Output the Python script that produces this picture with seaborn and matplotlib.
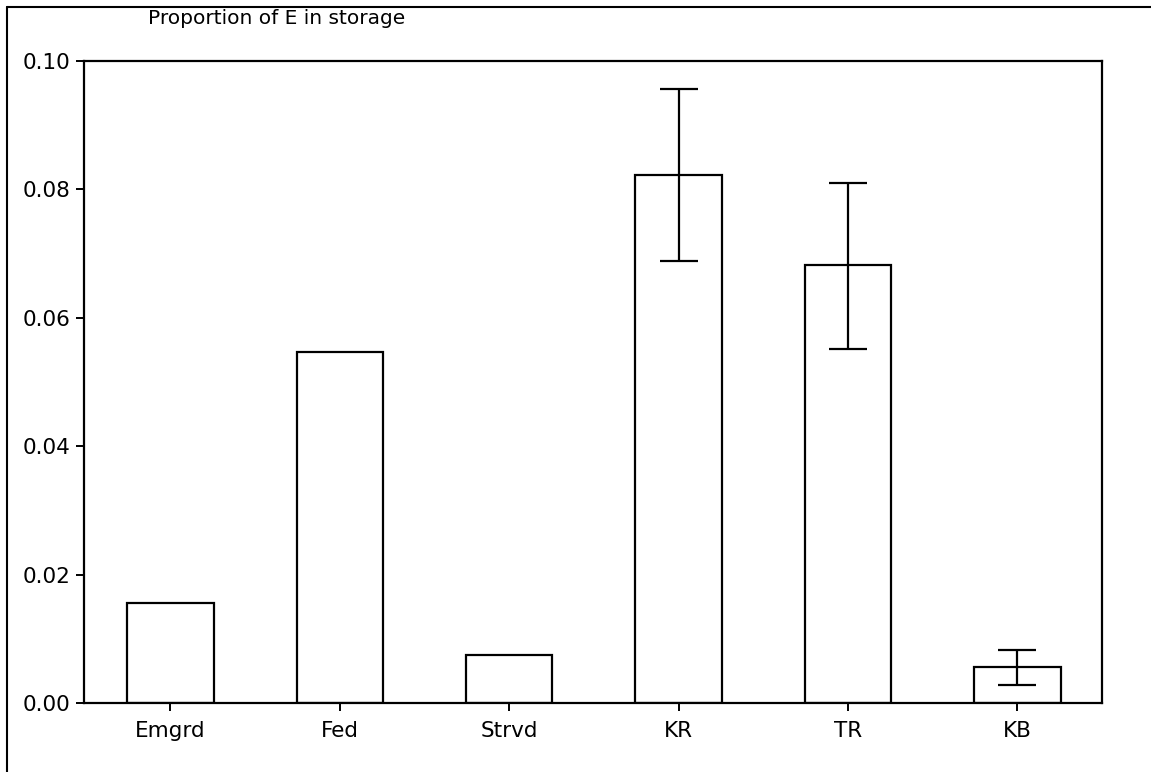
import matplotlib
matplotlib.use("Agg")
import matplotlib.pyplot as plt
import numpy as np
import pandas as pd
import seaborn as sns
from matplotlib.lines import Line2D

# data
groups = ['Emgrd', 'Fed', 'Strvd', 'KR', 'TR', 'KB']
means = [0.0156, 0.0546, 0.0075, 0.0822, 0.0682, 0.0056]
err_lo = [np.nan, np.nan, np.nan, 0.0688, 0.0551, 0.0028]
err_hi = [np.nan, np.nan, np.nan, 0.0956, 0.0810, 0.0083]
y_ticks = [0.00, 0.02, 0.04, 0.06, 0.08, 0.10]

df = pd.DataFrame({'group': groups, 'mean': means, 'lo': err_lo, 'hi': err_hi})

sns.set_style("white")
plt.rcParams['font.family'] = ['DejaVu Sans']

fig = plt.figure(figsize=(11.51, 7.72), dpi=100)
ax = fig.add_axes([84 / 1151, 1 - 703 / 772, (1102 - 84) / 1151, (703 - 61) / 772])

sns.barplot(data=df, x='group', y='mean', ax=ax, color='white', edgecolor='black',
            linewidth=1.6, width=0.51, errorbar=None)

# error bars for the groups that have them
has_err = df['lo'].notna()
x_pos = np.arange(len(groups))[has_err.values]
yerr = np.vstack([df['mean'][has_err] - df['lo'][has_err], df['hi'][has_err] - df['mean'][has_err]])
ax.errorbar(x_pos, df['mean'][has_err], yerr=yerr, fmt='none', ecolor='black',
            elinewidth=1.6, capsize=13.7, capthick=1.6)

ax.set_xlim(-0.51, 5.5)
ax.set_ylim(0, 0.10)
ax.set_yticks(y_ticks)
ax.set_yticklabels([f'{t:.2f}' for t in y_ticks])
ax.set_xlabel('')
ax.set_ylabel('')
for s in ax.spines.values():
    s.set_visible(True)
    s.set_color('black')
    s.set_linewidth(1.6)
ax.tick_params(axis='both', which='both', direction='out', length=6, width=1.4,
               color='black', labelsize=15.5, labelcolor='black',
               left=True, bottom=True)
ax.tick_params(axis='x', pad=7)
ax.tick_params(axis='y', pad=4)

fig.text(148 / 1151, 1 - 19 / 772, 'Proportion of E in storage', fontsize=14.5,
         ha='left', va='center', color='black')

# frame lines along the top and left of the figure
fig.add_artist(Line2D([7 / 1151, 1], [1 - 7 / 772, 1 - 7 / 772], color='black', lw=1.5))
fig.add_artist(Line2D([7 / 1151, 7 / 1151], [0, 1 - 7 / 772], color='black', lw=1.5))

plt.savefig('out.png', dpi=100)
